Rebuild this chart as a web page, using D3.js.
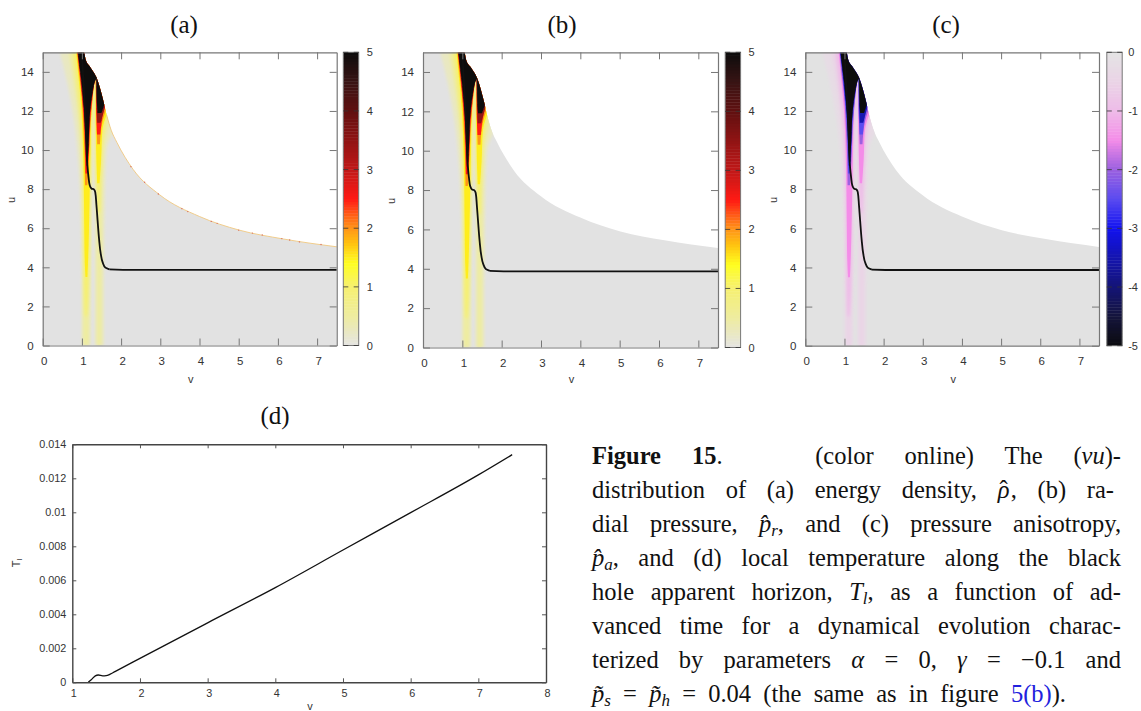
<!DOCTYPE html>
<html>
<head>
<meta charset="utf-8">
<script src="https://cdn.jsdelivr.net/npm/d3@7"></script>
<style>
  html, body { margin: 0; padding: 0; background: #fff; overflow: hidden; }
  svg { display: block; }
  .tick text, .bartick text { font-family: "Liberation Sans", sans-serif; fill: #333; }
  .cap text { font-family: "Liberation Serif", serif; font-size: 24.5px; fill: #111; white-space: pre; }
</style>
</head>
<body>
<div id="chart"></div>
<script>
// Tick labels
const vTicks = [0, 1, 2, 3, 4, 5, 6, 7];
const uTicks = [0, 2, 4, 6, 8, 10, 12, 14];
const barTicks = [0, 1, 2, 3, 4, 5];
const tempTicksX = [1, 2, 3, 4, 5, 6, 7, 8];
const tempTicksY = [0, 0.002, 0.004, 0.006, 0.008, 0.01, 0.012, 0.014];

// Colour maps (magnitude -> colour)
const heatStops = [0, 0.5, 1, 1.4, 1.75, 2, 2.5, 3, 3.5, 4, 4.5, 5];
const heatColors = ["#e4e4e2", "#eeeca0", "#f6f070", "#ffff20", "#ffc010", "#ff9518", "#ff1a14", "#c01818", "#901414", "#601010", "#381414", "#0c0c0c"];
const anisoStops = [0, 0.5, 1, 1.5, 2, 2.5, 3, 3.5, 4, 4.5, 5];
const anisoColors = ["#e4e4e4", "#ead4e6", "#eebce8", "#f48ce8", "#9c60e0", "#5c4cf0", "#1212f0", "#1414b0", "#141478", "#14143c", "#0c0c10"];

// Edge of the computed region: [v, u]
const domainEdge = [[0, 15], [1.05, 15], [1.1, 14.6], [1.21, 14.25], [1.38, 13.67], [1.55, 12.5], [1.63, 11.8], [1.75, 11], [1.89, 10.4], [2.31, 9], [2.99, 7.7], [4, 6.6], [5.02, 5.9], [6.14, 5.45], [7.5, 5.05]];
const rimSpeckle = [[2.25, 9.15], [2.6, 8.35], [2.95, 7.75], [3.55, 7.0], [3.7, 6.85], [4.3, 6.35], [4.45, 6.25], [5.0, 5.9], [5.35, 5.75], [5.6, 5.65], [6.1, 5.47], [6.3, 5.4], [6.55, 5.3], [7.1, 5.17]];

// Apparent horizon: [v, u]
const horizon = [[1.0, 15], [1.04, 13.5], [1.08, 12], [1.11, 10.5], [1.14, 9.2], [1.17, 8.6], [1.2, 8.2], [1.25, 8.02], [1.3, 8.0], [1.34, 7.85], [1.37, 7.2], [1.4, 6.4], [1.44, 5.4], [1.48, 4.7], [1.53, 4.25], [1.6, 3.98], [1.7, 3.89], [2.05, 3.87], [7.5, 3.87]];

// Ridges of the field as nested level bands, rows are [u, v left, v right]
const leftBands = [
  [0.25, [[0, 1.0, 1.22], [3, 1.0, 1.23], [6, 0.98, 1.25], [9, 0.92, 1.27], [11.5, 0.8, 1.28], [13.5, 0.62, 1.31], [15, 0.44, 1.1]]],
  [0.5, [[0, 1.03, 1.18], [3, 1.03, 1.19], [6, 1.02, 1.21], [9, 0.99, 1.24], [11.5, 0.91, 1.26], [13.5, 0.78, 1.31], [15, 0.66, 1.1]]],
  [1, [[1.5, 1.08, 1.13], [2.5, 1.06, 1.16], [4, 1.05, 1.18], [7, 1.04, 1.2], [9, 1.02, 1.22], [11, 0.98, 1.25], [13, 0.89, 1.31], [15, 0.77, 1.1]]],
  [1.5, [[3.5, 1.09, 1.14], [4.5, 1.07, 1.16], [6, 1.06, 1.18], [8, 1.05, 1.2], [10, 1.03, 1.22], [12, 0.99, 1.24], [14, 0.9, 1.33], [15, 0.85, 1.1]]],
  [2, [[8.2, 1.08, 1.14], [9.5, 1.07, 1.18], [11, 1.04, 1.21], [13, 0.98, 1.29], [14, 0.92, 1.35], [15, 0.875, 1.35]]],
  [2.5, [[8.8, 1.09, 1.14], [10, 1.08, 1.18], [11.5, 1.05, 1.21], [13, 0.99, 1.285], [14, 0.94, 1.35], [15, 0.885, 1.35]]],
  [3.5, [[9.2, 1.11, 1.14], [10.5, 1.09, 1.175], [12, 1.05, 1.21], [13, 1.0, 1.28], [14, 0.95, 1.36], [15, 0.89, 1.36]]],
  [5, [[9.4, 1.12, 1.15], [10.5, 1.1, 1.175], [12, 1.06, 1.21], [13, 1.015, 1.275], [13.5, 0.99, 1.33], [13.8, 0.97, 1.4], [15, 0.9, 1.4]]]
];
const rightBands = [
  [0.25, [[0, 1.33, 1.56], [3, 1.33, 1.56], [7, 1.33, 1.58], [10, 1.31, 1.63], [11.5, 1.3, 1.9], [14, 1.32, 2]]],
  [0.5, [[0, 1.38, 1.5], [3, 1.38, 1.5], [5, 1.38, 1.51], [8, 1.36, 1.52], [10, 1.33, 1.56], [11.5, 1.32, 1.7], [14, 1.33, 2]]],
  [1, [[6.8, 1.4, 1.46], [8, 1.38, 1.48], [9, 1.36, 1.5], [10.5, 1.35, 1.53], [12, 1.335, 1.66], [14, 1.34, 2]]],
  [1.5, [[8.3, 1.39, 1.45], [9.5, 1.37, 1.49], [11, 1.355, 1.52], [12, 1.345, 1.66], [14, 1.34, 2]]],
  [2, [[10.3, 1.39, 1.46], [11.5, 1.37, 1.53], [12.5, 1.355, 1.7], [14, 1.345, 2]]],
  [2.5, [[10.8, 1.385, 1.47], [12, 1.365, 1.56], [12.8, 1.36, 1.7], [14, 1.35, 2]]],
  [3.5, [[11.4, 1.39, 1.48], [12.3, 1.375, 1.6], [13, 1.365, 1.7], [14, 1.355, 2]]],
  [5, [[11.9, 1.4, 1.5], [12.5, 1.38, 1.6], [13.3, 1.37, 1.7], [15, 1.36, 2]]]
];

// Local temperature along the horizon: [v, T]
const tempCurve = [[1.236, 0], [1.28, 0.00015], [1.34, 0.00038], [1.384, 0.00043], [1.45, 0.00038], [1.5, 0.00039], [1.56, 0.00048], [1.63, 0.00063], [2, 0.00141], [3, 0.0035], [4, 0.00557], [5, 0.00778], [6, 0.00998], [7, 0.0122], [7.5, 0.01339]];

const svg = d3.select("#chart").append("svg").attr("width", 1141).attr("height", 711);
const defs = svg.append("defs");
[["wide", 1.5], ["soft", 0.7]].forEach(f => {
  defs.append("filter").attr("id", f[0])
    .attr("filterUnits", "userSpaceOnUse")
    .attr("x", 0).attr("y", 0).attr("width", 1141).attr("height", 400)
    .append("feGaussianBlur").attr("stdDeviation", f[1]);
});

const panels = [
  { id: "a", left: 42.7, right: 336.7, top: 52.3, bottom: 345.5, barLeft: 343.3, title: 184, stops: heatStops, colors: heatColors, sign: 1, rim: true },
  { id: "b", left: 423, right: 718, top: 52.3, bottom: 347.5, barLeft: 725.2, title: 562, stops: heatStops, colors: heatColors, sign: 1, rim: false },
  { id: "c", left: 805.3, right: 1099, top: 52.3, bottom: 345.7, barLeft: 1106.8, title: 946, stops: anisoStops, colors: anisoColors, sign: -1, rim: false }
];

function styleFrame(g, color) {
  g.select(".domain").attr("stroke", color).attr("stroke-width", 1.2);
  g.selectAll(".tick line").attr("stroke", color).attr("stroke-width", 1);
}

panels.forEach(p => {
  const x = d3.scaleLinear().domain([0, 7.5]).range([p.left, p.right]);
  const y = d3.scaleLinear().domain([0, 15]).range([p.bottom, p.top]);
  const color = d3.scaleLinear().domain(p.stops).range(p.colors).clamp(true);
  const g = svg.append("g");

  // region clip
  const region = d3.area().x(d => x(d[0])).y0(y(0)).y1(d => y(d[1])).curve(d3.curveMonotoneX);
  defs.append("clipPath").attr("id", "clip-" + p.id).append("path").attr("d", region(domainEdge));

  const field = g.append("g").attr("clip-path", `url(#clip-${p.id})`);
  field.append("rect")
    .attr("x", x(0)).attr("y", y(15))
    .attr("width", x(7.5) - x(0)).attr("height", y(0) - y(15))
    .attr("fill", "#e2e2e2");

  const band = d3.area()
    .y(d => y(d[0])).x0(d => x(d[1])).x1(d => x(d[2]))
    .curve(d3.curveMonotoneY);
  [rightBands, leftBands].forEach(set => {
    set.forEach(b => {
      field.append("path").attr("d", band(b[1])).attr("fill", color(b[0]))
        .attr("filter", b[0] <= 1 ? "url(#wide)" : "url(#soft)");
    });
  });

  if (p.rim) {
    const rim = d3.line().x(d => x(d[0])).y(d => y(d[1])).curve(d3.curveMonotoneX);
    g.append("path").datum(domainEdge.filter(d => d[0] >= 1.6))
      .attr("d", rim).attr("fill", "none")
      .attr("stroke", "#f0c880").attr("stroke-width", 0.9);
    g.selectAll(".speck").data(rimSpeckle).join("circle").attr("class", "speck")
      .attr("cx", d => x(d[0])).attr("cy", d => y(d[1])).attr("r", 0.7)
      .attr("fill", "#d87060");
  }

  // horizon
  const hLine = d3.line().x(d => x(d[0])).y(d => y(d[1])).curve(d3.curveMonotoneY);
  const tail = d3.line().x(d => x(d[0])).y(d => y(d[1]));
  g.append("path").datum(horizon.slice(0, 17)).attr("d", hLine)
    .attr("fill", "none").attr("stroke", "#111").attr("stroke-width", 1.8);
  g.append("path").datum(horizon.slice(16)).attr("d", tail)
    .attr("fill", "none").attr("stroke", "#111").attr("stroke-width", 1.8);

  // axes on all four sides, ticks pointing in
  const fmt = d3.format("d");
  const axB = g.append("g").attr("transform", `translate(0,${y(0)})`)
    .call(d3.axisBottom(x).tickValues(vTicks).tickFormat(fmt).tickSize(-7).tickSizeOuter(0).tickPadding(11));
  const axT = g.append("g").attr("transform", `translate(0,${y(15)})`)
    .call(d3.axisTop(x).tickValues(vTicks).tickFormat("").tickSize(-7).tickSizeOuter(0));
  const axL = g.append("g").attr("transform", `translate(${x(0)},0)`)
    .call(d3.axisLeft(y).tickValues(uTicks).tickFormat(fmt).tickSize(-7).tickSizeOuter(0).tickPadding(9));
  const axR = g.append("g").attr("transform", `translate(${x(7.5)},0)`)
    .call(d3.axisRight(y).tickValues(uTicks).tickFormat("").tickSize(-7).tickSizeOuter(0));
  [axB, axT, axL, axR].forEach(a => {
    styleFrame(a, "#777");
    a.selectAll("text").style("font-size", "11.5px");
  });
  axB.selectAll("text").attr("dx", 1);

  g.append("text").attr("x", (p.left + p.right) / 2 + 1).attr("y", 383)
    .attr("text-anchor", "middle").style("font", "11px 'Liberation Sans'").attr("fill", "#333").text("v");
  g.append("text").attr("transform", `translate(${p.left - 28},${(p.top + p.bottom) / 2 + 1}) rotate(-90)`)
    .attr("text-anchor", "middle").style("font", "11px 'Liberation Sans'").attr("fill", "#333").text("u");

  // colour bar
  const barW = 15.4;
  const barScale = d3.scaleLinear().domain([0, 5]).range([p.sign > 0 ? p.bottom : p.top, p.sign > 0 ? p.top : p.bottom]);
  const steps = d3.range(0, 5, 0.05);
  g.append("g").selectAll("rect").data(steps).join("rect")
    .attr("x", p.barLeft).attr("width", barW)
    .attr("y", d => Math.min(barScale(d), barScale(d + 0.05)) - 0.2)
    .attr("height", d => Math.abs(barScale(d + 0.05) - barScale(d)) + 0.4)
    .attr("fill", d => color(d + 0.025));
  g.append("rect").attr("x", p.barLeft).attr("y", p.top).attr("width", barW).attr("height", p.bottom - p.top)
    .attr("fill", "none").attr("stroke", "#777").attr("stroke-width", 1);
  barTicks.forEach(t => {
    const yy = barScale(t);
    const tickCol = "#333";
    g.append("line").attr("x1", p.barLeft).attr("x2", p.barLeft + 5).attr("y1", yy).attr("y2", yy).attr("stroke", tickCol).attr("stroke-width", 0.8);
    g.append("line").attr("x1", p.barLeft + barW - 5).attr("x2", p.barLeft + barW).attr("y1", yy).attr("y2", yy).attr("stroke", tickCol).attr("stroke-width", 0.8);
    g.append("text").attr("class", "bartick")
      .attr("x", p.barLeft + barW + (p.sign > 0 ? 8 : 6)).attr("y", yy + 4)
      .style("font", "11px 'Liberation Sans'").attr("fill", "#333")
      .text(p.sign > 0 ? t : (t === 0 ? "0" : "-" + t));
  });

  svg.append("text").attr("x", p.title).attr("y", 33).attr("text-anchor", "middle")
    .style("font", "25px 'Liberation Serif'").attr("fill", "#111").text(`(${p.id})`);
});

// Panel d
const tx = d3.scaleLinear().domain([1, 8]).range([72.3, 546]);
const ty = d3.scaleLinear().domain([0, 0.014]).range([682.3, 444.3]);
const dg = svg.append("g");
dg.append("path").datum(tempCurve)
  .attr("d", d3.line().x(d => tx(d[0])).y(d => ty(d[1])).curve(d3.curveMonotoneX))
  .attr("fill", "none").attr("stroke", "#111").attr("stroke-width", 1.3);
const dB = dg.append("g").attr("transform", `translate(0,${ty(0)})`)
  .call(d3.axisBottom(tx).tickValues(tempTicksX).tickFormat(d3.format("d")).tickSize(-4).tickSizeOuter(0).tickPadding(7));
const dT = dg.append("g").attr("transform", `translate(0,${ty(0.014)})`)
  .call(d3.axisTop(tx).tickValues(tempTicksX).tickFormat("").tickSize(-4).tickSizeOuter(0));
const dL = dg.append("g").attr("transform", `translate(${tx(1)},0)`)
  .call(d3.axisLeft(ty).tickValues(tempTicksY).tickFormat(d => d === 0 ? "0" : String(+d.toFixed(3))).tickSize(-4).tickSizeOuter(0).tickPadding(6));
const dR = dg.append("g").attr("transform", `translate(${tx(8)},0)`)
  .call(d3.axisRight(ty).tickValues(tempTicksY).tickFormat("").tickSize(-4).tickSizeOuter(0));
[dB, dT, dL, dR].forEach(a => {
  a.select(".domain").attr("stroke", "#444").attr("stroke-width", 1.4);
  a.selectAll(".tick line").attr("stroke", "#555");
  a.selectAll("text").style("font-size", "10.8px");
});
dB.selectAll("text").attr("dx", 1);
dg.append("text").attr("x", 310).attr("y", 710).attr("text-anchor", "middle")
  .style("font", "11px 'Liberation Sans'").attr("fill", "#333").text("v");
const tl = dg.append("text").attr("transform", "translate(20,563) rotate(-90)").attr("text-anchor", "middle")
  .style("font", "11px 'Liberation Sans'").attr("fill", "#333");
tl.append("tspan").text("T");
tl.append("tspan").attr("dy", 2).style("font-size", "8px").text("l");
svg.append("text").attr("x", 275).attr("y", 424).attr("text-anchor", "middle")
  .style("font", "25px 'Liberation Serif'").attr("fill", "#111").text("(d)");

// Caption, one array of [text, kind, optional shift] runs per line
const captionLines = [
  [["Figure", "b"], [" ", ""], ["15", "b"], [".", ""], ["   (color online) The (", ""], ["vu", "i"], [")-", ""]],
  [["distribution of (a) energy density, ", ""], ["ρ", "i"], ["ˆ", "", -10], [", (b) ra-", "", 3]],
  [["dial pressure, ", ""], ["p̂", "i"], ["r", "s"], [", and (c) pressure anisotropy,", ""]],
  [["p̂", "i"], ["a", "s"], [", and (d) local temperature along the black", ""]],
  [["hole apparent horizon, ", ""], ["T", "i"], ["l", "s"], [", as a function of ad-", ""]],
  [["vanced time for a dynamical evolution charac-", ""]],
  [["terized by parameters ", ""], ["α", "i"], [" = 0, ", ""], ["γ", "i"], [" = −0.1 and", ""]],
  [["p̃", "i"], ["s", "s"], [" = ", ""], ["p̃", "i"], ["h", "s"], [" = 0.04 (the same as in figure ", ""], ["5(b)", "l"], [").", ""]]
];
const captionBase = [464, 498, 532, 566, 600, 634, 668, 702];
const captionEnd = [1121, 1121, 1121, 1121, 1121, 1121, 1121, 1066];
const capLeft = 592;
const cap = svg.append("g").attr("class", "cap");
captionLines.forEach((runs, i) => {
  const t = cap.append("text").attr("x", capLeft).attr("y", captionBase[i]);
  let drop = 0;
  runs.forEach(r => {
    const s = t.append("tspan").text(r[0]);
    const want = r[1] === "s" ? 4 : 0;
    if (want !== drop) { s.attr("dy", want - drop); drop = want; }
    if (r[2]) s.attr("dx", r[2]);
    if (r[1] === "b") s.style("font-weight", "bold");
    if (r[1] === "i" || r[1] === "s") s.style("font-style", "italic");
    if (r[1] === "s") s.style("font-size", "17px");
    if (r[1] === "l") s.attr("fill", "#2222dd");
  });
  const gaps = runs.map(r => r[0]).join("").split(" ").length - 1;
  const extra = (captionEnd[i] - capLeft - t.node().getComputedTextLength()) / Math.max(gaps, 1);
  t.style("word-spacing", extra + "px");
});
</script>
</body>
</html>
